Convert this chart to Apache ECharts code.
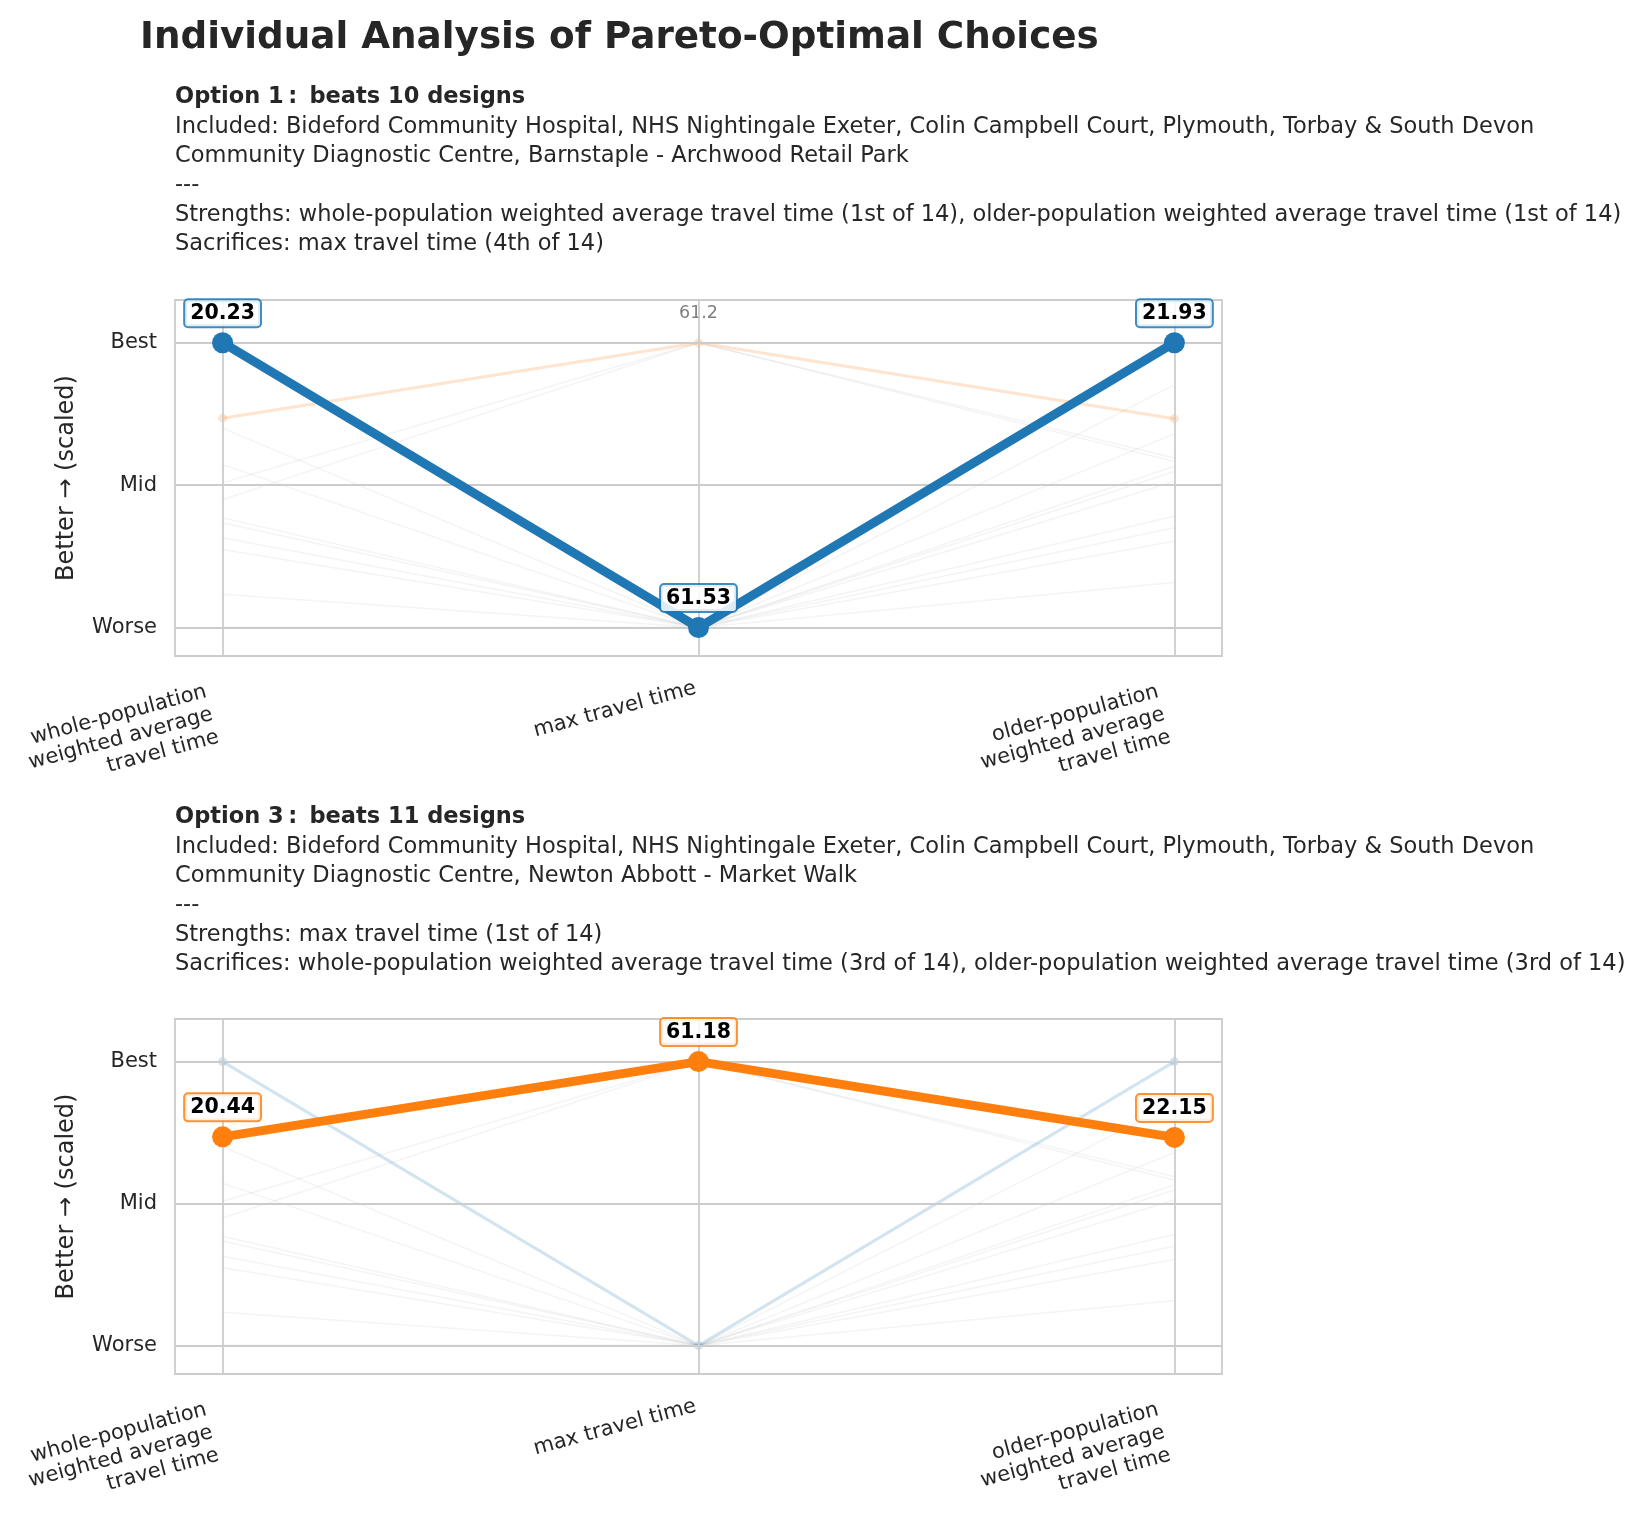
<!DOCTYPE html>
<html>
<head>
<meta charset="utf-8">
<title>Individual Analysis of Pareto-Optimal Choices</title>
<script src="https://cdn.jsdelivr.net/npm/echarts@6/dist/echarts.min.js"></script>
<style>
  html, body { margin: 0; padding: 0; background: #ffffff; }
  #chart { width: 1652px; height: 1529px; }
</style>
</head>
<body>
<div id="chart"></div>
<script>
// objectives (parallel axes)
var objectiveNames = [
    'whole-population\nweighted average\ntravel time',
    'max travel time',
    'older-population\nweighted average\ntravel time'
];
var scaleLabels = ['Worse', 'Mid', 'Best'];
var scaleValues = [0, 0.5, 1];

// the two pareto-optimal options
var optionNames = ['Option 1', 'Option 3'];
var optionBeats = [10, 11];
var optionRaw = [
    [20.23, 61.53, 21.93],
    [20.44, 61.18, 22.15]
];
var optionScaled = [
    [1, 0, 1],
    [0.735, 1, 0.733]
];
var optionIncluded = [
    ['Bideford Community Hospital, NHS Nightingale Exeter, Colin Campbell Court, Plymouth, Torbay & South Devon',
     'Community Diagnostic Centre, Barnstaple - Archwood Retail Park'],
    ['Bideford Community Hospital, NHS Nightingale Exeter, Colin Campbell Court, Plymouth, Torbay & South Devon',
     'Community Diagnostic Centre, Newton Abbott - Market Walk']
];
var optionStrengths = [
    'whole-population weighted average travel time (1st of 14), older-population weighted average travel time (1st of 14)',
    'max travel time (1st of 14)'
];
var optionSacrifices = [
    'max travel time (4th of 14)',
    'whole-population weighted average travel time (3rd of 14), older-population weighted average travel time (3rd of 14)'
];
// axes where the other option's value is written in grey, per panel
var greyLabelAxes = [[1], []];

// remaining (dominated) designs, scaled 0 = worse .. 1 = best
var otherWhole = [0.70, 0.572, 0.508, 0.449, 0.385, 0.368, 0.315, 0.274, 0.117, 0, 0, 0];
var otherMax   = [0, 0, 1, 1, 0, 0, 0, 0, 0, 0, 0, 0];
var otherOlder = [0.852, 0.68, 0.595, 0.583, 0.566, 0.548, 0.513, 0.391, 0.35, 0.303, 0.158, 0];

var colors = ['#1f77b4', '#ff7f0e'];
var boxColors = ['rgba(31,119,180,0.85)', 'rgba(255,127,14,0.85)'];
var fadedColors = ['rgba(31,119,180,0.2)', 'rgba(255,127,14,0.2)'];
var textColor = '#262626';
var gridColor = '#cccccc';
var font = 'DejaVu Sans';

var chart = echarts.init(document.getElementById('chart'), null, {renderer: 'canvas'});

var panelTops = [300, 1019];
var panelHeights = [356, 355];
var blockTops = [78, 798];

var grids = [], xAxes = [], yAxes = [], series = [];
var titles = [{
    text: 'Individual Analysis of Pareto-Optimal Choices',
    left: 135,
    top: 15,
    textStyle: {fontFamily: font, fontSize: 37.3, fontWeight: 'bold', color: textColor}
}];

function points(vals) {
    return vals.map(function (v, i) { return [i, v]; });
}

optionNames.forEach(function (name, p) {
    var other = 1 - p;

    var lines = ['{b|' + name + '\u2009: \u2009beats ' + optionBeats[p] + ' designs}'];
    optionIncluded[p].forEach(function (s, k) {
        lines.push('{n|' + (k === 0 ? 'Included: ' : '') + s + '}');
    });
    lines.push('{n|---}');
    lines.push('{n|Strengths: ' + optionStrengths[p] + '}');
    lines.push('{n|Sacrifices: ' + optionSacrifices[p] + '}');
    titles.push({
        text: lines.join('\n'),
        left: 170,
        top: blockTops[p],
        textStyle: {
            fontFamily: font,
            fontWeight: 'normal',
            color: textColor,
            rich: {
                b: {fontFamily: font, fontSize: 22.5, fontWeight: 'bold', lineHeight: 29.3, color: textColor},
                n: {fontFamily: font, fontSize: 22.5, fontWeight: 'normal', lineHeight: 29.3, color: textColor}
            }
        }
    });

    grids.push({
        left: 175,
        right: 430,
        top: panelTops[p],
        height: panelHeights[p],
        show: true,
        borderColor: gridColor,
        borderWidth: 1.8,
        backgroundColor: '#ffffff'
    });

    xAxes.push({
        type: 'value',
        gridIndex: p,
        min: -0.1,
        max: 2.1,
        splitLine: {show: false},
        axisLine: {show: false},
        axisTick: {show: false},
        axisLabel: {
            customValues: [0, 1, 2],
            rotate: 15,
            verticalAlign: 'top',
            margin: 19,
            fontFamily: font,
            fontSize: 21,
            color: textColor,
            formatter: function (v) {
                var label = objectiveNames[Math.round(v)];
                return (label.indexOf('\n') >= 0 ? '{m|' : '{s|') + label + '}';
            },
            rich: {
                m: {fontFamily: font, fontSize: 21, lineHeight: 23.5, color: textColor, padding: [0, 20, 0, 0]},
                s: {fontFamily: font, fontSize: 21, lineHeight: 23.5, color: textColor, padding: [0, 6, 0, 0]}
            }
        }
    });

    yAxes.push({
        type: 'value',
        gridIndex: p,
        min: -0.1,
        max: 1.15,
        splitLine: {show: false},
        axisLine: {show: false},
        axisTick: {show: false},
        name: 'Better \u2192 (scaled)',
        nameLocation: 'middle',
        nameGap: 96,
        nameTextStyle: {fontFamily: font, fontSize: 24, color: textColor},
        axisLabel: {
            customValues: scaleValues,
            margin: 18,
            fontFamily: font,
            fontSize: 21,
            color: textColor,
            formatter: function (v) {
                return scaleLabels[scaleValues.indexOf(v)];
            }
        }
    });

    // grid lines through the library scales
    series.push({
        type: 'line',
        xAxisIndex: p,
        yAxisIndex: p,
        data: [[0, 0]],
        showSymbol: false,
        silent: true,
        z: 0,
        lineStyle: {opacity: 0},
        markLine: {
            silent: true,
            symbol: 'none',
            animation: false,
            label: {show: false},
            lineStyle: {color: gridColor, width: 1.8, type: 'solid'},
            data: scaleValues.map(function (v) { return {yAxis: v}; })
                .concat([0, 1, 2].map(function (x) { return {xAxis: x}; }))
        }
    });

    // dominated designs
    otherWhole.forEach(function (w, i) {
        series.push({
            type: 'line',
            xAxisIndex: p,
            yAxisIndex: p,
            data: points([w, otherMax[i], otherOlder[i]]),
            showSymbol: false,
            silent: true,
            z: 2,
            lineStyle: {color: 'rgba(200,200,200,0.2)', width: 1.5}
        });
    });

    // the other pareto option, faded
    var grey = greyLabelAxes[p];
    series.push({
        type: 'line',
        xAxisIndex: p,
        yAxisIndex: p,
        data: points(optionScaled[other]).map(function (pt, i) {
            var d = {value: pt};
            if (grey.indexOf(i) >= 0) {
                d.label = {
                    show: true,
                    position: 'top',
                    distance: 16,
                    fontFamily: font,
                    fontSize: 17.5,
                    color: '#808080',
                    formatter: optionRaw[other][i].toFixed(1)
                };
            }
            return d;
        }),
        symbol: 'circle',
        symbolSize: 9,
        silent: true,
        z: 3,
        itemStyle: {color: fadedColors[other]},
        lineStyle: {color: fadedColors[other], width: 3}
    });

    // highlighted option
    series.push({
        type: 'line',
        xAxisIndex: p,
        yAxisIndex: p,
        data: points(optionScaled[p]),
        symbol: 'circle',
        symbolSize: 21,
        z: 5,
        itemStyle: {color: colors[p]},
        lineStyle: {color: colors[p], width: 9},
        label: {
            show: true,
            position: 'top',
            distance: 6,
            fontFamily: font,
            fontSize: 20.5,
            fontWeight: 'bold',
            color: '#000000',
            backgroundColor: 'rgba(255,255,255,0.85)',
            borderColor: boxColors[p],
            borderWidth: 2,
            borderRadius: 3,
            padding: [3, 5, 2, 5],
            formatter: function (d) { return optionRaw[p][d.dataIndex].toFixed(2); }
        }
    });
});

var option = {
    backgroundColor: '#ffffff',
    animation: false,
    title: titles,
    grid: grids,
    xAxis: xAxes,
    yAxis: yAxes,
    series: series
};
chart.setOption(option);
</script>
</body>
</html>
